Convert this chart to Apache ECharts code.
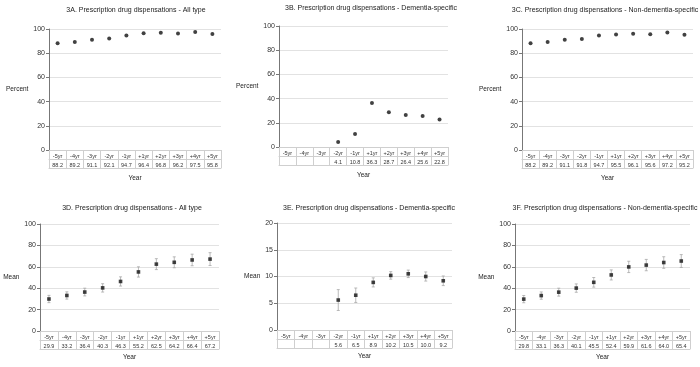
<!DOCTYPE html>
<html><head><meta charset="utf-8">
<script src="https://cdn.jsdelivr.net/npm/echarts@6/dist/echarts.min.js"></script>
<style>html,body{margin:0;padding:0;background:#fff}#c{width:700px;height:367px}</style>
</head><body><div id="c"></div>
<script>
var categories = ['-5yr','-4yr','-3yr','-2yr','-1yr','+1yr','+2yr','+3yr','+4yr','+5yr'];
var valuesA = [88.2,89.2,91.1,92.1,94.7,96.4,96.8,96.2,97.5,95.8];
var valuesB = [null,null,null,4.1,10.8,36.3,28.7,26.4,25.6,22.8];
var valuesC = [88.2,89.2,91.1,91.8,94.7,95.5,96.1,95.6,97.2,95.2];
var valuesD = [29.9,33.2,36.4,40.3,46.3,55.2,62.5,64.2,66.4,67.2];
var errorsD = [3.4,3.4,3.6,3.9,4.3,4.8,5.1,5.1,5.4,6.0];
var valuesE = [null,null,null,5.6,6.5,8.9,10.2,10.5,10.0,9.2];
var errorsE = [null,null,null,1.95,1.35,0.85,0.7,0.7,0.85,0.9];
var valuesF = [29.8,33.1,36.3,40.1,45.5,52.4,59.9,61.6,64.0,65.4];
var errorsF = [3.4,3.4,3.7,3.9,4.5,4.7,5.3,5.3,5.4,6.0];
var titles = [
  '3A. Prescription drug dispensations - All type',
  '3B. Prescription drug dispensations - Dementia-specific',
  '3C. Prescription drug dispensations - Non-dementia-specific',
  '3D. Prescription drug dispensations - All type',
  '3E. Prescription drug dispensations - Dementia-specific',
  '3F. Prescription drug dispensations - Non-dementia-specific'
];
var yNames = ['Percent','Percent','Percent','Mean','Mean','Mean'];
var yMax = [100,100,100,100,20,100];
var yInterval = [20,20,20,20,5,20];

var panels = [
  {vals: valuesA, errs: null, grid:{left:49, top:29, width:172, height:121}, title:[136,7], nameGap:19},
  {vals: valuesB, errs: null, grid:{left:279, top:26, width:169, height:121}, title:[371,5], nameGap:18},
  {vals: valuesC, errs: null, grid:{left:522, top:29, width:171, height:121}, title:[605,7], nameGap:20},
  {vals: valuesD, errs: errorsD, grid:{left:40, top:224, width:179, height:107}, title:[132,205], nameGap:16},
  {vals: valuesE, errs: errorsE, grid:{left:277, top:223, width:175, height:107}, title:[369,205], nameGap:16},
  {vals: valuesF, errs: errorsF, grid:{left:515, top:224, width:175, height:107}, title:[605,205], nameGap:16}
];

var FONT = 'Liberation Sans, Arial, sans-serif';
var lineC = '#cfcfcf';
var option = {animation:false, backgroundColor:'#fff', title:[], grid:[], xAxis:[], yAxis:[], series:[]};

panels.forEach(function(p, i){
  option.title.push({text: titles[i], left: p.title[0], top: p.title[1], textAlign:'center', padding:0,
    textStyle:{fontSize:7, fontWeight:'normal', color:'#222', fontFamily:FONT}});
  option.grid.push(p.grid);
  option.xAxis.push({type:'category', gridIndex:i, data:categories, boundaryGap:true,
    axisLine:{show:true, lineStyle:{color:lineC}},
    axisTick:{show:true, length:18, interval:0, lineStyle:{color:lineC}},
    axisLabel:{interval:0, margin:3, fontSize:5.5, color:'#333', fontFamily:FONT}});
  option.xAxis.push({type:'category', gridIndex:i, data:p.vals.map(function(v){return v==null?'':v.toFixed(1);}),
    position:'bottom', offset:9, boundaryGap:true,
    axisLine:{show:true, lineStyle:{color:lineC}}, axisTick:{show:false},
    axisLabel:{interval:0, margin:3, fontSize:5.5, color:'#333', fontFamily:FONT}});
  option.xAxis.push({type:'category', gridIndex:i, data:categories, position:'bottom', offset:18,
    axisLine:{show:true, lineStyle:{color:lineC}}, axisTick:{show:false}, axisLabel:{show:false},
    name:'Year', nameLocation:'middle', nameGap: i<3?7:5,
    nameTextStyle:{fontSize:6.5, color:'#222', fontFamily:FONT}});
  option.yAxis.push({type:'value', gridIndex:i, min:0, max:yMax[i], interval:yInterval[i],
    name:yNames[i], nameLocation:'middle', nameRotate:0, nameGap:p.nameGap,
    nameTextStyle:{fontSize:6.5, color:'#222', fontFamily:FONT, padding:[7,0,0,0]},
    axisLine:{show:true, lineStyle:{color:'#777'}},
    axisTick:{show:true, length:3, lineStyle:{color:'#777'}},
    axisLabel:{fontSize:7, color:'#333', margin:4, fontFamily:FONT},
    splitLine:{show:true, lineStyle:{color:'#e2e2e2', width:1}}});
  var xi = i*3;
  if (p.errs) {
    var errData = p.vals.map(function(v, k){
      return v==null ? [k, null, null] : [k, v - p.errs[k], v + p.errs[k]];
    });
    option.series.push({type:'custom', xAxisIndex:xi, yAxisIndex:i, data:errData, z:2,
      renderItem:function(params, api){
        var lo = api.value(1), hi = api.value(2);
        if (lo == null || isNaN(lo)) return null;
        var x = api.value(0);
        var a = api.coord([x, lo]), b = api.coord([x, hi]);
        var w = 1.5;
        var st = {stroke:'#a8a8a8', lineWidth:0.8};
        return {type:'group', children:[
          {type:'line', shape:{x1:a[0], y1:a[1], x2:b[0], y2:b[1]}, style:st},
          {type:'line', shape:{x1:a[0]-w, y1:a[1], x2:a[0]+w, y2:a[1]}, style:st},
          {type:'line', shape:{x1:b[0]-w, y1:b[1], x2:b[0]+w, y2:b[1]}, style:st}
        ]};
      }});
  }
  option.series.push({type:'scatter', xAxisIndex:xi, yAxisIndex:i, data:p.vals, z:3,
    symbol: p.errs ? 'rect' : 'circle', symbolSize: p.errs ? 3.6 : 4,
    itemStyle:{color:'#111'}});
});

var chart = echarts.init(document.getElementById('c'), null, {renderer:'canvas'});
chart.setOption(option);
</script></body></html>
